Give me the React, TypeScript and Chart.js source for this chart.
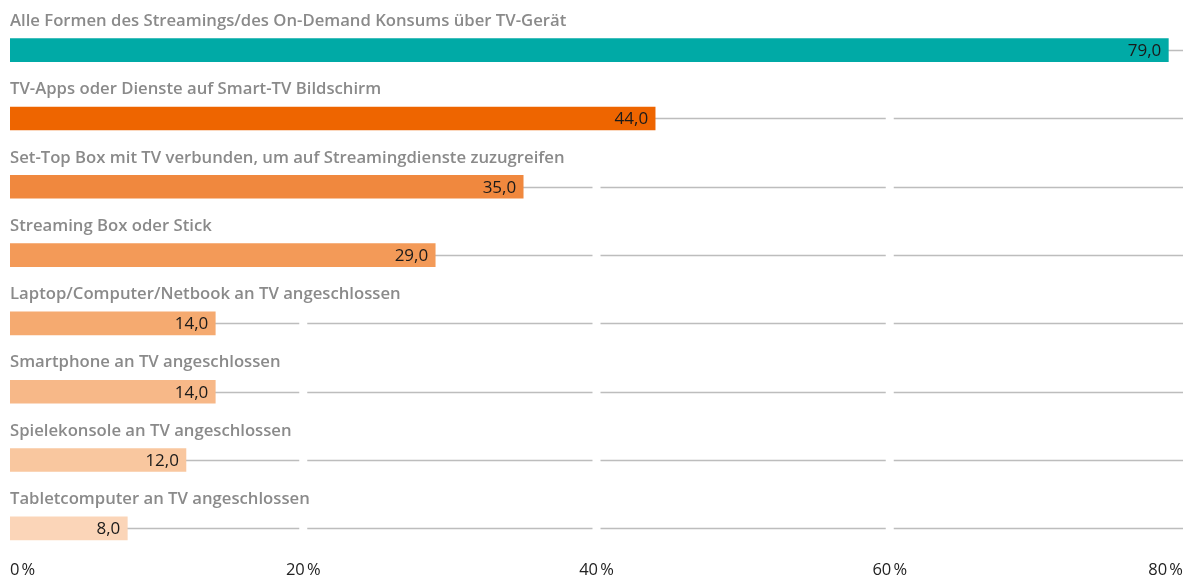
import React, { useEffect, useRef } from "react";
import { Chart, registerables } from "chart.js";
Chart.register(...registerables);

const categories = [
  "Alle Formen des Streamings/des On-Demand Konsums über TV-Gerät",
  "TV-Apps oder Dienste auf Smart-TV Bildschirm",
  "Set-Top Box mit TV verbunden, um auf Streamingdienste zuzugreifen",
  "Streaming Box oder Stick",
  "Laptop/Computer/Netbook an TV angeschlossen",
  "Smartphone an TV angeschlossen",
  "Spielekonsole an TV angeschlossen",
  "Tabletcomputer an TV angeschlossen",
];
const values = [79, 44, 35, 29, 14, 14, 12, 8];
const barColors = ["#00AAA6", "#EE6500", "#F0883E", "#F39A58", "#F5AA70", "#F7B888", "#F9C79F", "#FBD5B8"];
const xTicks = [0, 20, 40, 60, 80];

const FONT = "'Open Sans', sans-serif";

const rowPlugin = {
  id: "rowDeco",
  beforeDatasetsDraw(chart: any) {
    const { ctx, scales } = chart;
    const x = scales.x;
    const y = scales.y;
    ctx.save();
    ctx.strokeStyle = "#BDBDBD";
    ctx.lineWidth = 1.5;
    const gap = 4;
    categories.forEach((_, i) => {
      const cy = Math.round(y.getPixelForValue(i)) + 0.5;
      for (let k = 0; k < xTicks.length - 1; k++) {
        const a = x.getPixelForValue(xTicks[k]) + (k === 0 ? 0 : gap);
        const b = x.getPixelForValue(xTicks[k + 1]) - (k + 1 === xTicks.length - 1 ? 0 : gap);
        ctx.beginPath();
        ctx.moveTo(a, cy);
        ctx.lineTo(b, cy);
        ctx.stroke();
      }
    });
    ctx.restore();
  },
  afterDatasetsDraw(chart: any) {
    const { ctx, scales } = chart;
    const x = scales.x;
    const y = scales.y;
    ctx.save();
    categories.forEach((label, i) => {
      const cy = y.getPixelForValue(i);
      ctx.font = `600 16.7px ${FONT}`;
      ctx.fillStyle = "#8A8A8A";
      ctx.textAlign = "left";
      ctx.textBaseline = "middle";
      ctx.fillText(label, x.getPixelForValue(0), cy - 29);
      ctx.font = `400 17px ${FONT}`;
      ctx.fillStyle = "#1A1A1A";
      ctx.textAlign = "right";
      ctx.fillText(values[i].toFixed(1).replace(".", ","), x.getPixelForValue(values[i]) - 7, cy + 1);
    });
    ctx.restore();
  },
};

export default function App() {
  const ref = useRef<HTMLCanvasElement>(null);
  useEffect(() => {
    const chart = new Chart(ref.current!, {
      type: "bar",
      data: {
        labels: categories,
        datasets: [
          {
            data: values,
            backgroundColor: barColors,
            barThickness: 23,
          },
        ],
      },
      options: {
        indexAxis: "y",
        animation: false,
        responsive: true,
        maintainAspectRatio: false,
        layout: { padding: { left: 10, right: 4, top: 16, bottom: 0 } },
        plugins: { legend: { display: false }, tooltip: { enabled: false } },
        scales: {
          x: {
            min: 0,
            max: 80,
            grid: { display: false, drawTicks: false },
            border: { display: false },
            afterFit: (s: any) => {
              s.height = 16.5;
            },
            ticks: {
              stepSize: 20,
              align: "inner",
              padding: -2,
              color: "#222",
              font: { family: FONT, size: 16.5 },
              callback: (v: any) => `${v}\u202F%`,
            },
          },
          y: {
            display: false,
            offset: true,
          },
        },
      },
      plugins: [rowPlugin],
    });
    return () => chart.destroy();
  }, []);
  return (
    <div style={{ position: "absolute", left: 0, top: 0, width: 1187, height: 579 }}>
      <canvas ref={ref} />
    </div>
  );
}
